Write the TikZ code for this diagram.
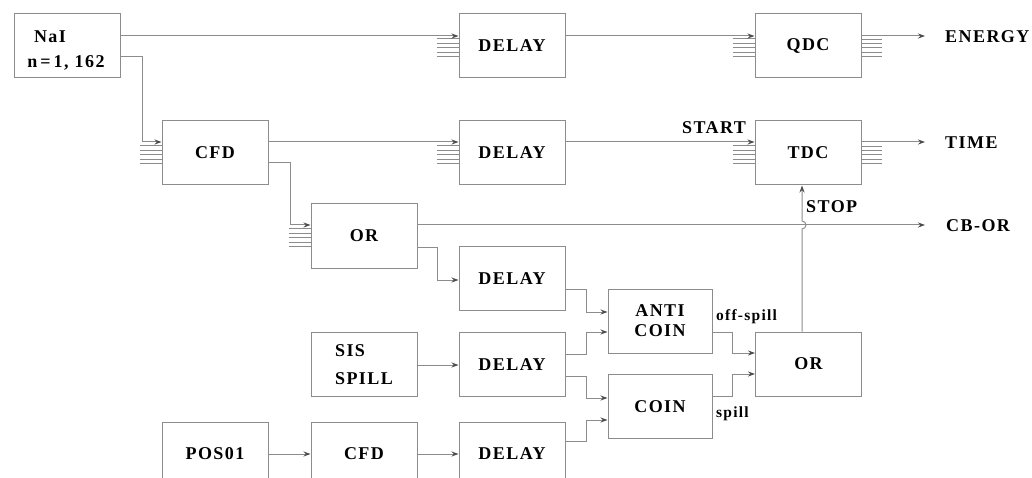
\documentclass[tikz,border=0pt]{standalone}
\usepackage{fontspec}
\setmainfont{Liberation Serif}[LetterSpace=8]
\usetikzlibrary{arrows.meta}

\begin{document}
\begin{tikzpicture}[x=1pt, y=-1pt,
  wire/.style={black!45, line width=1pt},
  sig/.style={wire, -{Stealth[length=7pt,width=5pt,color=black!70]}},
  unit/.style={draw=black!45, line width=1pt, minimum width=106pt, minimum height=64pt, inner sep=0pt, font=\fontsize{18}{20}\selectfont\bfseries},
  lbl/.style={inner sep=0pt, font=\fontsize{18}{20}\selectfont\bfseries},
  tag/.style={inner sep=0pt, font=\fontsize{15.5}{17}\selectfont\bfseries}]
\useasboundingbox (0,0) rectangle (1032,478);
\clip (0,0) rectangle (1032,478);

% modules
\node[unit] (nai) at (67,46) {};
\node[lbl] (naiA) at (50,37) {NaI};
\node[lbl] (naiB) at (66,63) {n\,=\,1, 162};
\node[unit] (cfd) at (215,153) {CFD};
\node[unit] (dly1) at (512,46) {DELAY};
\node[unit] (dly2) at (512,153) {DELAY};
\node[unit] (qdc) at (808,46) {QDC};
\node[unit] (tdc) at (808,153) {TDC};
\node[unit] (orA) at (364,236) {OR};
\node[unit] (dly3) at (512,278.5) {DELAY};
\node[unit, minimum width=104pt, align=center] (anti) at (660,321) {ANTI\\COIN};
\node[unit, minimum width=104pt] (coin) at (660,406.5) {COIN};
\node[unit] (orB) at (808.5,364) {OR};
\node[unit, align=left] (sis) at (364,364.5) {SIS\\[8pt]SPILL};
\node[unit] (dly4) at (512,364.5) {DELAY};
\node[unit] (pos) at (215,454) {POS01};
\node[unit] (cfdB) at (364,454) {CFD};
\node[unit] (dly5) at (512,454) {DELAY};

% outputs
\node[lbl, anchor=west] (energy) at (945,37) {ENERGY};
\node[lbl, anchor=west] (time) at (945,143) {TIME};
\node[lbl, anchor=west] (cbor) at (946,226) {CB-OR};
\coordinate (eEnd) at (925,36);
\coordinate (tEnd) at (925,142);
\coordinate (cEnd) at (925,225);

% bus inputs
\foreach \n in {cfd,dly1,dly2,qdc,tdc,orA}
  \foreach \d in {25,29.5,34,38.5,43}
    \draw[wire, line width=0.7pt] (\n.north west) ++(-22,\d) -- ++(22,0);
\foreach \n in {qdc,tdc}
  \foreach \d in {26,30,34,38.5,43}
    \draw[wire, line width=0.7pt] (\n.north east) ++(0,\d) -- ++(20,0);

% signals
\draw[sig] (nai.east |- 0,36) -- (dly1.west |- 0,36);
\draw[sig] (nai.east |- 0,57) -- ++(22,0) |- (cfd.west |- 0,142);
\draw[sig] (cfd.east |- 0,142) -- (dly2.west |- 0,142);
\draw[sig] (cfd.east |- 0,163) -- ++(22,0) |- (orA.west |- 0,225);
\draw[sig] (dly1.east |- 0,36) -- (qdc.west |- 0,36);
\draw[sig] (dly2.east |- 0,142) -- (tdc.west |- 0,142);
\draw[sig] (qdc.east |- 0,36) -- (eEnd);
\draw[sig] (tdc.east |- 0,142) -- (tEnd);
\draw[sig] (orA.east |- 0,225) -- (cEnd);
\draw[sig] (orA.east |- 0,247) -- ++(20,0) |- (dly3.west |- 0,280);
\draw[sig] (dly3.east |- 0,289) -- ++(21,0) |- (anti.west |- 0,312);
\draw[sig] (sis.east |- 0,365) -- (dly4.west |- 0,365);
\draw[sig] (dly4.east |- 0,354) -- ++(21,0) |- (anti.west |- 0,332);
\draw[sig] (dly4.east |- 0,376) -- ++(21,0) |- (coin.west |- 0,398);
\draw[sig] (pos.east |- 0,454) -- (cfdB.west |- 0,454);
\draw[sig] (cfdB.east |- 0,454) -- (dly5.west |- 0,454);
\draw[sig] (dly5.east |- 0,441) -- ++(21,0) |- (coin.west |- 0,420);
\draw[sig] (anti.east |- 0,332) -- ++(20,0) |- (orB.west |- 0,353);
\draw[sig] (coin.east |- 0,396) -- ++(20,0) |- (orB.west |- 0,374);
\draw[sig] (orB.north -| 802,0) -- (802,229) arc[start angle=-90, end angle=90, radius=4pt] -- (tdc.south -| 802,0);

\node[lbl] (start) at (714,128) {START};
\node[lbl, anchor=west] (stop) at (806,207) {STOP};
\node[tag, anchor=west] (offsp) at (716,317) {off-spill};
\node[tag, anchor=west] (spill) at (716,414) {spill};
\end{tikzpicture}
\end{document}
